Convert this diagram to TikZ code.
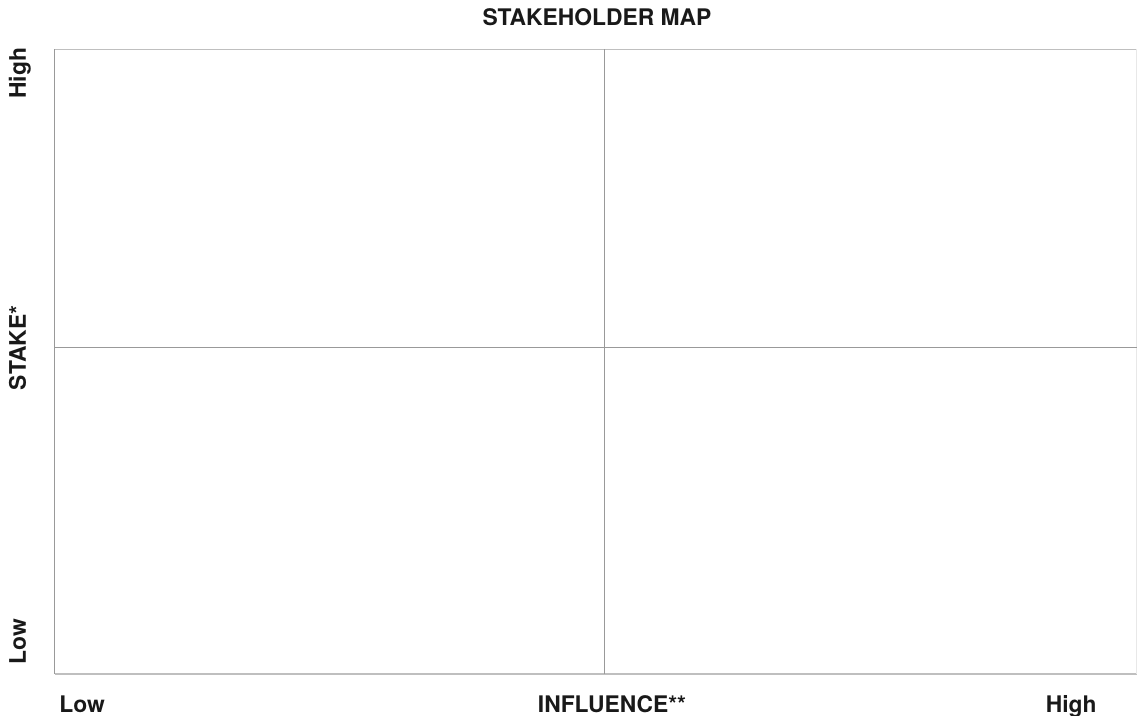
\documentclass[tikz,border=0pt]{standalone}
\usepackage{fontspec}
\setmainfont{TeX Gyre Heros}
\usepackage{tikz}

\begin{document}
\begin{tikzpicture}[x=0.02cm,y=-0.02cm,
  font=\bfseries\fontsize{13}{15}\selectfont,
  lbl/.style={inner sep=0pt,text=black!90},
  grid/.style={line width=0.6pt,draw=black!40}]
  \useasboundingbox (0,0) rectangle (1137,716);
  % raster
  \coordinate (nw) at (54.5,49.5);
  \coordinate (se) at (1136.5,674);
  \coordinate (mid) at (604.5,347.5);
  \draw[grid,draw=black!25] (nw) -- (se|-nw);
  \draw[grid,draw=black!25] (nw|-se) -- (se);
  \draw[grid,draw=black!9] (se|-nw) -- (se);
  \draw[grid] (nw) -- (nw|-se);
  \draw[grid] (mid|-nw) -- (mid|-se);
  \draw[grid] (nw|-mid) -- (se|-mid);
  % titel
  \node[lbl,anchor=base] (title) at (597,26) {STAKEHOLDER MAP};
  % x-as
  \node[lbl,anchor=base west] (xlow) at (59,712) {Low};
  \node[lbl,anchor=base] (xlabel) at (612,712) {INFLUENCE**};
  \node[lbl,anchor=base east] (xhigh) at (1097,712) {High};
  % y-as
  \node[lbl,rotate=90,anchor=base west] (yhigh) at (26,99) {High};
  \node[lbl,rotate=90,anchor=base] (ylabel) at (26,348) {STAKE*};
  \node[lbl,rotate=90,anchor=base west] (ylow) at (26,665) {Low};
\end{tikzpicture}
\end{document}
